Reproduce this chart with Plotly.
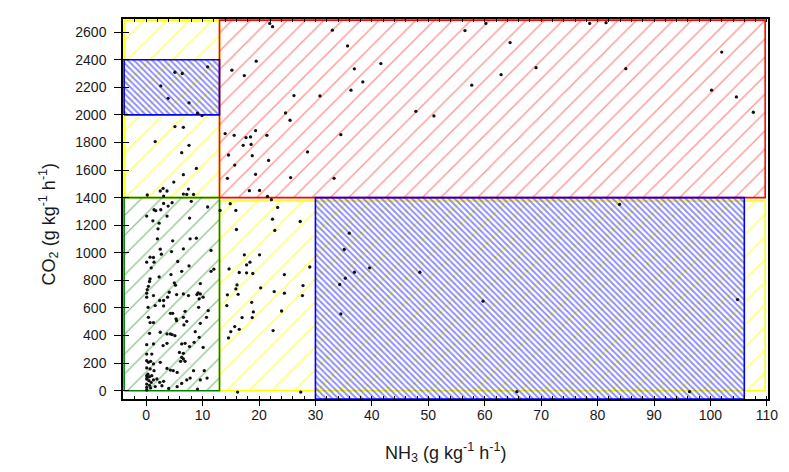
import plotly.graph_objects as go

# ---------------- data ----------------
# Scatter points: NH3 (x) and CO2 (y)
nh3 = [
    # green quadrant (low NH3, low CO2)
    3.1, 4.6, 8.0, 3.9, 10.9, 1.4, 1.7, 2.6, 0.1, 3.7, 7.7, 1.2, 2.3, 2.1, 2.0, 7.8, 8.9, 4.7, 6.6, 2.5,
    4.5, 2.7, 11.5, 0.7, 1.3, 0.1, 1.4, 5.6, 0.9, 7.6, 11.5, 12.0, 4.4, 6.3, 0.7, 0.6, 2.3, 5.0, 5.2, 0.4,
    0.2, 9.6, 6.6, 9.2, 9.6, 4.1,
    0.1, 0.1, 1.3, 2.4, 3.1, 3.8, 5.4, 7.5, 9.0, 9.4, 10.1, 0.35, 1.6, 3.1, 4.3, 4.7, 6.9, 9.3, 11.0, 0.4,
    0.7, 1.3, 5.3, 5.4, 6.6, 6.7, 7.2, 9.6, 10.7, 0.6, 2.5, 3.7, 4.3, 4.6, 5.1, 8.7, 9.4, 0.1, 1.3, 3.0,
    3.7, 6.3, 6.9, 7.7, 8.5, 10.1, 0.1, 1.0, 5.9, 6.6, 6.3, 6.6, 6.9, 6.1, 2.5, 0.1, 0.4, 0.8, 1.3, 0.1,
    0.7, 1.4, 3.7, 4.3, 4.8, 5.5, 8.4, 10.3, 0.1, 0.6, 1.0, 0.1, 0.5, 1.3, 1.9, 2.4, 3.1, 0.1, 0.6, 0.1,
    0.8, 0.1, 4.0, 5.5, 6.3, 7.2, 7.8, 9.6, 10.8, 2.8, 9.1, 0.3, 0.9, 0.2, 1.6,
    # upper-left column
    5.1, 6.4, 10.9, 2.6, 3.9, 7.6, 9.1, 9.9, 5.1, 6.6, 1.6, 7.6, 6.3, 8.9, 6.6, 4.9, 3.0, 2.5, 3.7, 7.5,
    0.2, 3.1, 6.6, 7.2, 8.4,
    # red region
    21.9, 22.4, 19.5, 15.2, 17.4, 26.2, 30.8, 24.7, 25.5, 14.0, 15.6, 19.4, 18.5, 17.7, 21.4, 17.2, 18.6,
    14.6, 18.8, 21.7, 28.6, 15.7, 19.4, 14.4, 25.6, 18.3, 20.1, 21.5, 33.3, 33.0, 35.7, 36.9, 36.3, 38.4,
    41.6, 34.5, 47.8, 51.0, 56.5, 60.2, 64.5, 62.9, 57.7, 69.1, 78.6, 81.5, 85.0, 102.0, 100.2, 104.6, 107.6,
    # middle yellow region
    22.2, 14.9, 15.9, 23.3, 13.1, 22.4, 22.8, 27.3, 16.0, 17.4, 20.1, 18.4, 17.8, 14.7, 16.5, 17.8, 18.9,
    29.0, 24.5, 16.1, 15.9, 14.4, 16.3, 20.3, 22.7, 24.5, 27.8, 27.7, 18.7, 14.3, 19.0, 24.0, 17.0, 18.8,
    15.7, 16.5, 15.0, 22.5, 14.6, 16.2, 27.4,
    # blue region
    36.0, 35.1, 36.9, 39.6, 35.3, 48.5, 34.3, 59.7, 34.5, 65.7, 83.9, 104.8, 96.3,
]
co2 = [
    1358, 1363, 1373, 1339, 1332, 1312, 1305, 1312, 1266, 1266, 1252, 1232, 1215, 1174, 1101, 1101, 1106, 1087, 1029, 1026,
    1009, 990, 1017, 968, 966, 932, 932, 937, 891, 905, 866, 881, 842, 866, 811, 792, 825, 782, 765, 757,
    733, 777, 702, 709, 702, 714,
    707, 678, 690, 654, 654, 678, 697, 690, 697, 666, 678, 605, 617, 615, 561, 561, 576, 605, 581, 532,
    494, 494, 521, 508, 532, 477, 503, 489, 532, 416, 424, 412, 412, 407, 399, 428, 387, 334, 339, 327,
    344, 339, 344, 320, 351, 314, 266, 266, 278, 271, 242, 230, 213, 213, 206, 218, 206, 213, 194, 165,
    158, 145, 162, 150, 145, 133, 145, 145, 109, 102, 109, 85, 73, 78, 85, 61, 68, 48, 39, 24,
    20, 5, 17, 29, 53, 78, 92, 78, 92, 36, 12, 120, 60, 95, 30,
    2309, 2300, 2348, 2210, 2120, 2087, 2012, 1995, 1915, 1910, 1806, 1779, 1726, 1612, 1566, 1513, 1467, 1448, 1448, 1462,
    1419, 1411, 1426, 1423, 1423,
    2663, 2639, 2389, 2324, 2285, 2140, 2137, 2014, 1961, 1864, 1852, 1886, 1840, 1835, 1852, 1779, 1786,
    1709, 1704, 1670, 1731, 1636, 1569, 1540, 1545, 1450, 1452, 1409, 1540, 2614, 2500, 2334, 2179, 2239,
    2372, 1856, 2026, 1992, 2611, 2663, 2524, 2291, 2215, 2342, 2663, 2668, 2335, 2455, 2179, 2130, 2019,
    1385, 1356, 1307, 1329, 1307, 1244, 1162, 1227, 1169, 985, 985, 932, 912, 883, 857, 855, 850,
    897, 842, 767, 738, 695, 699, 746, 719, 707, 762, 690, 641, 617, 571, 578, 530, 530,
    465, 445, 428, 436, 383, -10, -10,
    1142, 1024, 859, 891, 816, 859, 770, 649, 557, -7, 1351, 661, -7,
]

# Classification regions: (name, x0, x1, y0, y1)
regions = [
    ("yellow_upper", -3.9, 13, 1400, 2687),
    ("yellow_lower", 13, 109.7, 0, 1375),
    ("green", -3.9, 13, 0, 1400),
    ("red", 13, 109.7, 1400, 2687),
    ("blue_large", 30, 106, -60, 1400),
    ("blue_small", -3.9, 13, 2000, 2400),
]

x_ticks = [0, 10, 20, 30, 40, 50, 60, 70, 80, 90, 100, 110]
y_ticks = [0, 200, 400, 600, 800, 1000, 1200, 1400, 1600, 1800, 2000, 2200, 2400, 2600]

# ---------------- styles ----------------
style = {
    "yellow_upper": dict(line="#FFFF00", hatch="#FFFF00", shape="/", size=16, sol=0.11),
    "yellow_lower": dict(line="#FFFF00", hatch="#FFFF00", shape="/", size=16, sol=0.11),
    "green": dict(line="#008000", hatch="#2E8B2E", shape="/", size=14, sol=0.1),
    "red": dict(line="#FF0000", hatch="#FF3030", shape="/", size=13, sol=0.11),
    "blue_large": dict(line="#0000FF", hatch="#1A1AFF", shape="\\", size=4.3, sol=0.45),
    "blue_small": dict(line="#0000FF", hatch="#1A1AFF", shape="\\", size=4.3, sol=0.45),
}

fig = go.Figure()

for name, x0, x1, y0, y1 in regions:
    s = style[name]
    fig.add_trace(go.Scatter(
        x=[x0, x1, x1, x0, x0], y=[y0, y0, y1, y1, y0],
        mode="lines", fill="toself", fillcolor="rgba(0,0,0,0)",
        fillpattern=dict(shape=s["shape"], fgcolor=s["hatch"], bgcolor="rgba(0,0,0,0)",
                         size=s["size"], solidity=s["sol"]),
        line=dict(color=s["line"], width=1.6),
        hoverinfo="skip", showlegend=False,
    ))

fig.add_trace(go.Scatter(
    x=nh3, y=co2, mode="markers",
    marker=dict(symbol="circle", size=3.3, color="#111111", line=dict(width=0)),
    showlegend=False,
))

# dummy traces to realise the auxiliary tick axes
for xa, ya in [("x2", "y"), ("x3", "y"), ("x", "y2")]:
    fig.add_trace(go.Scatter(x=[0], y=[0], xaxis=xa, yaxis=ya, mode="markers",
                             marker=dict(opacity=0), hoverinfo="skip", showlegend=False))

xr = [-4.1, 110.2]
yr = [-60, 2695]
tickfont = dict(family="Liberation Sans, Arial, sans-serif", size=14, color="#1a1a1a")

fig.update_layout(
    width=789, height=472,
    margin=dict(l=123, r=21, t=19, b=73),
    paper_bgcolor="white", plot_bgcolor="white",
    font=dict(family="Liberation Sans, Arial, sans-serif"),
    xaxis=dict(range=xr, tickmode="array", tickvals=x_ticks, ticktext=[str(v) for v in x_ticks],
               ticks="outside", ticklen=5, tickwidth=1, tickcolor="black",
               showline=True, linecolor="black", linewidth=1.5, mirror=True,
               showgrid=False, zeroline=False, tickfont=tickfont, ticklabelstandoff=-3),
    xaxis2=dict(range=xr, overlaying="x", anchor="y", side="top", tickmode="linear", tick0=0, dtick=2,
                ticks="inside", ticklen=3, tickwidth=1, tickcolor="black", showticklabels=False,
                showline=False, showgrid=False, zeroline=False),
    xaxis3=dict(range=xr, overlaying="x", anchor="y", side="bottom", tickmode="linear", tick0=0, dtick=2,
                ticks="inside", ticklen=3, tickwidth=1, tickcolor="black", showticklabels=False,
                showline=False, showgrid=False, zeroline=False),
    yaxis=dict(range=yr, tickmode="array", tickvals=y_ticks, ticktext=[str(v) for v in y_ticks],
               ticks="outside", ticklen=7, tickwidth=1, tickcolor="black",
               showline=True, linecolor="black", linewidth=1.5, mirror=True,
               showgrid=False, zeroline=False, tickfont=tickfont, ticklabelstandoff=5),
    yaxis2=dict(range=yr, overlaying="y", anchor="x", side="left", tickmode="array", tickvals=y_ticks,
                ticks="inside", ticklen=6, tickwidth=1, tickcolor="black", showticklabels=False,
                showline=False, showgrid=False, zeroline=False),
    annotations=[
        dict(text="NH<sub>3</sub> (g kg<sup>-1</sup> h<sup>-1</sup>)", xref="paper", yref="paper",
             x=0.5, y=-0.14, xanchor="center", yanchor="middle", showarrow=False,
             font=dict(size=18, color="#1a1a1a")),
        dict(text="CO<sub>2</sub> (g kg<sup>-1</sup> h<sup>-1</sup>)", xref="paper", yref="paper",
             x=-0.116, y=0.46, xanchor="center", yanchor="middle", showarrow=False, textangle=-90,
             font=dict(size=18, color="#1a1a1a")),
    ],
)

fig.write_html("out.html")
